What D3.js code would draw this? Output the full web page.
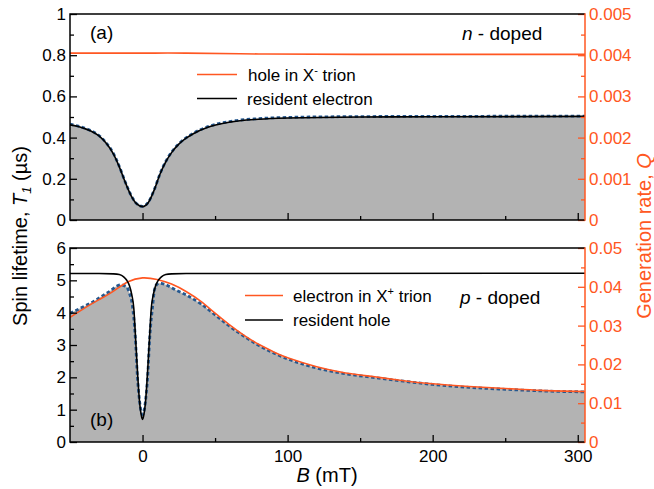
<!DOCTYPE html>
<html>
<head>
<meta charset="utf-8">
<script src="https://cdn.jsdelivr.net/npm/d3@7"></script>
<style>
  body { margin: 0; background: #fff; }
  text { font-family: "Liberation Sans", Arial, Helvetica, sans-serif; }
</style>
</head>
<body>
<div id="chart"></div>
<script>
// panel (a): n-doped
const fieldA = [-50, -45, -40, -35, -30, -25, -20, -16, -12, -8, -4, 0, 4, 8, 12, 16, 20, 25, 30, 35, 45, 60, 80, 100, 150, 200, 305];
const t1DataA = [0.465, 0.457, 0.446, 0.432, 0.410, 0.374, 0.322, 0.260, 0.186, 0.121, 0.079, 0.066, 0.086, 0.146, 0.223, 0.284, 0.329, 0.370, 0.399, 0.421, 0.453, 0.478, 0.492, 0.498, 0.502, 0.503, 0.504];
const t1ModelA = [0.462, 0.455, 0.444, 0.430, 0.408, 0.372, 0.320, 0.258, 0.185, 0.120, 0.078, 0.065, 0.085, 0.145, 0.222, 0.282, 0.327, 0.368, 0.397, 0.419, 0.450, 0.475, 0.489, 0.495, 0.500, 0.501, 0.503];
const fieldQA = [-50, 0, 30, 80, 150, 305];
const genA = [0.00405, 0.00405, 0.00405, 0.00403, 0.00402, 0.00402];

// panel (b): p-doped
const fieldB = [-50, -40, -34, -23, -15, -11, -9, -7, -5, -3.5, -2, -1, 0, 1, 2, 3.5, 5, 7, 8.3, 10, 12, 16, 23, 30, 40, 50, 60, 70, 80, 90, 100, 120, 140, 160, 180, 200, 225, 250, 275, 305];
const t1DataB = [3.98, 4.20, 4.34, 4.65, 4.86, 4.80, 4.60, 4.22, 3.25, 2.00, 1.25, 0.95, 0.85, 0.95, 1.25, 2.00, 3.25, 4.22, 4.72, 4.88, 4.91, 4.86, 4.70, 4.55, 4.28, 3.93, 3.58, 3.27, 2.99, 2.76, 2.57, 2.29, 2.11, 1.99, 1.88, 1.78, 1.69, 1.63, 1.58, 1.55];
const fieldHole = [-50, -30, -20, -16, -13, -11, -9, -7.5, -6, -5, -4, -3, -2, -1, 0, 1, 2, 3, 4, 5, 6, 7.5, 9, 11, 13, 16, 20, 30, 305];
const t1Hole = [5.21, 5.21, 5.20, 5.18, 5.11, 5.01, 4.83, 4.57, 4.12, 3.38, 2.58, 1.82, 1.22, 0.86, 0.70, 0.86, 1.22, 1.82, 2.58, 3.38, 4.12, 4.57, 4.83, 5.01, 5.11, 5.18, 5.20, 5.21, 5.22];
const fieldQB = [-50, -40, -30, -20, -10, 0, 10, 20, 30, 40, 50, 60, 70, 80, 90, 100, 120, 140, 160, 180, 200, 225, 250, 275, 305];
const genB = [0.0321, 0.0345, 0.0367, 0.0389, 0.0413, 0.0423, 0.0419, 0.0407, 0.0388, 0.0363, 0.0332, 0.0302, 0.0275, 0.0252, 0.0233, 0.0217, 0.0194, 0.0178, 0.0168, 0.0158, 0.0150, 0.0143, 0.0138, 0.0133, 0.0130];

// ticks
const xMajor = [0, 100, 200, 300];
const xMinor = [50, 150, 250];
const yMajorA = [0, 0.2, 0.4, 0.6, 0.8, 1];
const yMinorA = [0.1, 0.3, 0.5, 0.7, 0.9];
const qMajorA = [0, 0.001, 0.002, 0.003, 0.004, 0.005];
const qMinorA = [0.0005, 0.0015, 0.0025, 0.0035, 0.0045];
const yMajorB = [0, 1, 2, 3, 4, 5, 6];
const yMinorB = [0.5, 1.5, 2.5, 3.5, 4.5, 5.5];
const qMajorB = [0, 0.01, 0.02, 0.03, 0.04, 0.05];
const qMinorB = [0.005, 0.015, 0.025, 0.035, 0.045];

const width = 654;
const height = 489;
const orange = '#ff5722';
const left = 70, right = 585;

const svg = d3.select('#chart')
  .append('svg')
  .attr('width', width)
  .attr('height', height);

const x = d3.scaleLinear().domain([-50, 305]).range([left, right]);

function panel(opts) {
  const y = d3.scaleLinear().domain(opts.yDomain).range([opts.bottom, opts.top]);
  const q = d3.scaleLinear().domain(opts.qDomain).range([opts.bottom, opts.top]);
  const g = svg.append('g');

  g.append('clipPath').attr('id', opts.id)
    .append('rect')
    .attr('x', left).attr('y', opts.top)
    .attr('width', right - left).attr('height', opts.bottom - opts.top);

  const plot = g.append('g').attr('clip-path', `url(#${opts.id})`);
  const dataPts = d3.zip(opts.field, opts.data);

  plot.append('path')
    .datum(dataPts)
    .attr('fill', '#b3b3b3')
    .attr('d', d3.area().x(d => x(d[0])).y0(opts.bottom).y1(d => y(d[1])).curve(d3.curveMonotoneX));

  plot.append('path')
    .datum(dataPts)
    .attr('fill', 'none')
    .attr('stroke', '#25588f')
    .attr('stroke-width', 2.8)
    .attr('stroke-dasharray', '3.5,2.5')
    .attr('d', d3.line().x(d => x(d[0])).y(d => y(d[1])).curve(d3.curveMonotoneX));

  plot.append('path')
    .datum(d3.zip(opts.fieldQ, opts.gen))
    .attr('fill', 'none')
    .attr('stroke', orange)
    .attr('stroke-width', 1.6)
    .attr('d', d3.line().x(d => x(d[0])).y(d => q(d[1])).curve(d3.curveNatural));

  plot.append('path')
    .datum(d3.zip(opts.fieldModel, opts.model))
    .attr('fill', 'none')
    .attr('stroke', '#000')
    .attr('stroke-width', 1.6)
    .attr('d', d3.line().x(d => x(d[0])).y(d => y(d[1])).curve(d3.curveMonotoneX));

  // axes, ticks pointing inward
  g.append('g').attr('transform', `translate(${left},0)`)
    .call(d3.axisLeft(y).tickValues(opts.yMajor).tickSize(-7).tickPadding(4).tickFormat(d => String(d)));
  g.append('g').attr('transform', `translate(${left},0)`)
    .call(d3.axisLeft(y).tickValues(opts.yMinor).tickSize(-4).tickFormat(''));

  const axisR = g.append('g').attr('transform', `translate(${right},0)`)
    .call(d3.axisRight(q).tickValues(opts.qMajor).tickSize(-7).tickPadding(4).tickFormat(opts.qFormat));
  const axisRm = g.append('g').attr('transform', `translate(${right},0)`)
    .call(d3.axisRight(q).tickValues(opts.qMinor).tickSize(-4).tickFormat(''));

  g.append('g').attr('transform', `translate(0,${opts.bottom})`)
    .call(d3.axisBottom(x).tickValues(xMajor).tickSize(-7).tickPadding(8)
      .tickFormat(opts.xLabels ? d3.format('d') : ''));
  g.append('g').attr('transform', `translate(0,${opts.bottom})`)
    .call(d3.axisBottom(x).tickValues(xMinor).tickSize(-4).tickFormat(''));

  g.selectAll('.domain').remove();
  g.selectAll('.tick line').attr('stroke-width', 1.3);
  g.selectAll('.tick text').attr('font-size', '17px').attr('font-family', '"Liberation Sans", Arial, sans-serif');
  axisR.selectAll('.tick line').attr('stroke', orange);
  axisRm.selectAll('.tick line').attr('stroke', orange);
  axisR.selectAll('.tick text').attr('fill', orange);

  // frame
  g.append('path')
    .attr('fill', 'none').attr('stroke', '#000').attr('stroke-width', 1.5)
    .attr('d', `M${right},${opts.top}H${left}V${opts.bottom}H${right}`);
  g.append('line')
    .attr('x1', right).attr('x2', right).attr('y1', opts.top - 0.75).attr('y2', opts.bottom + 0.75)
    .attr('stroke', orange).attr('stroke-width', 1.5);

  return g;
}

panel({
  id: 'clipA', top: 14, bottom: 220, yDomain: [0, 1], qDomain: [0, 0.005],
  field: fieldA, data: t1DataA, fieldModel: fieldA, model: t1ModelA,
  fieldQ: fieldQA, gen: genA,
  yMajor: yMajorA, yMinor: yMinorA, qMajor: qMajorA, qMinor: qMinorA,
  qFormat: d => d === 0 ? '0' : d3.format('.3f')(d), xLabels: false
});

panel({
  id: 'clipB', top: 248, bottom: 442, yDomain: [0, 6], qDomain: [0, 0.05],
  field: fieldB, data: t1DataB, fieldModel: fieldHole, model: t1Hole,
  fieldQ: fieldQB, gen: genB,
  yMajor: yMajorB, yMinor: yMinorB, qMajor: qMajorB, qMinor: qMinorB,
  qFormat: d => d === 0 ? '0' : d3.format('.2f')(d), xLabels: true
});

// panel labels
svg.append('text').attr('x', 90).attr('y', 39).attr('font-size', '19px').text('(a)');
svg.append('text').attr('x', 90).attr('y', 426).attr('font-size', '19px').text('(b)');

const nd = svg.append('text').attr('x', 462).attr('y', 40).attr('font-size', '19px');
nd.append('tspan').attr('font-style', 'italic').text('n');
nd.append('tspan').text(' - doped');
const pd = svg.append('text').attr('x', 460).attr('y', 304).attr('font-size', '19px');
pd.append('tspan').attr('font-style', 'italic').text('p');
pd.append('tspan').text(' - doped');

// legends
function legendRow(x1, x2, yLine, textX, yText, color, parts) {
  svg.append('line').attr('x1', x1).attr('x2', x2).attr('y1', yLine).attr('y2', yLine)
    .attr('stroke', color).attr('stroke-width', 1.6);
  const t = svg.append('text').attr('x', textX).attr('y', yText).attr('font-size', '17px');
  parts.forEach(p => {
    const s = t.append('tspan').text(p.t);
    if (p.sup) s.attr('font-size', '11px').attr('dy', -7);
    if (p.down) s.attr('dy', 7);
  });
}
legendRow(197, 237, 74.5, 248, 81, orange, [{ t: 'hole in X' }, { t: '-', sup: true }, { t: ' trion', down: true }]);
legendRow(197, 237, 98.5, 247, 104.5, '#000', [{ t: 'resident electron' }]);
legendRow(245, 283, 295.5, 293, 301.5, orange, [{ t: 'electron in X' }, { t: '+', sup: true }, { t: ' trion', down: true }]);
legendRow(245, 283, 320, 293, 326, '#000', [{ t: 'resident hole' }]);

// axis titles
const yt = svg.append('text')
  .attr('transform', 'translate(27,236) rotate(-90)')
  .attr('text-anchor', 'middle').attr('font-size', '20px');
yt.append('tspan').text('Spin lifetime, ');
yt.append('tspan').attr('font-style', 'italic').text('T');
yt.append('tspan').attr('font-style', 'italic').attr('font-size', '13px').attr('dy', 4).text('1');
yt.append('tspan').attr('dy', -4).text(' (µs)');

const qt = svg.append('text')
  .attr('transform', 'translate(651,236) rotate(-90)')
  .attr('text-anchor', 'middle').attr('font-size', '20px').attr('fill', orange);
qt.append('tspan').text('Generation rate, ');
qt.append('tspan').attr('font-style', 'italic').text('Q');

const xt = svg.append('text')
  .attr('x', 327).attr('y', 482)
  .attr('text-anchor', 'middle').attr('font-size', '20px');
xt.append('tspan').attr('font-style', 'italic').text('B');
xt.append('tspan').text(' (mT)');
</script>
</body>
</html>
